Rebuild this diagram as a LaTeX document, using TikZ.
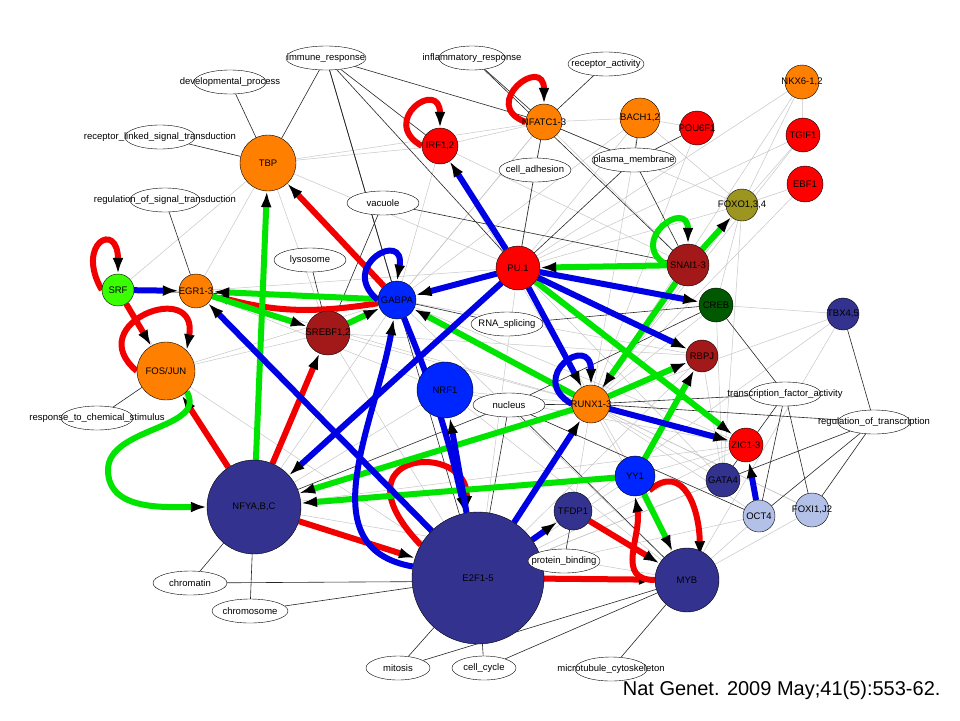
\documentclass[tikz,border=0pt]{standalone}
\usepackage{fontspec}
\setmainfont{Liberation Sans}
\usetikzlibrary{shapes.geometric,arrows.meta}
\pgfdeclarelayer{bg}
\pgfdeclarelayer{paper}
\pgfsetlayers{paper,bg,main}

\tikzset{
  tf/.style={circle, draw=black, thin, minimum size=#1, inner sep=0pt, font=\fontsize{9.5}{10}\selectfont,
    execute at begin node={\setbox0\hbox\bgroup}, execute at end node={\egroup\makebox[0pt]{\box0}}},
  go/.style={ellipse, draw=black, thin, fill=white, minimum width=#1, minimum height=24, inner sep=0pt},
  gotext/.style={font=\fontsize{9.5}{10}\selectfont},
  gry/.style={draw=black!22, line width=0.5pt},
  gol/.style={draw=black!85, line width=0.6pt},
  reg/.style={line width=6pt, -{Latex[black, length=16pt, width=11pt]}},
  rd/.style={reg, draw=red!95!black},
  gn/.style={reg, draw=green!90!black},
  bl/.style={reg, draw=blue!90!black}
}

\newcommand{\goterm}[4]{\node[go=#2] (#1) at (#3) {}; \node[gotext] at (#1.center) {#4};}

\begin{document}
\begin{tikzpicture}[x=1pt, y=-1pt]
\useasboundingbox (0,0) rectangle (960,720);
\begin{pgfonlayer}{paper}
\fill[white] (0,0) rectangle (960,720);
\end{pgfonlayer}

% transcription factors
\node[tf=56, fill=orange] (TBP) at (268,163) {TBP};
\node[tf=32, fill=green!70!lime] (SRF) at (118,290) {SRF};
\node[tf=34, fill=orange] (EGR) at (196,291) {EGR1-3};
\node[tf=58, fill=orange] (FOS) at (166,371) {FOS/JUN};
\node[tf=38, fill=blue!85!cyan] (GABPA) at (397,300) {GABPA};
\node[tf=44, fill=red!60!black!90] (SREBF) at (328,333) {SREBF1,2};
\node[tf=56, fill=blue!85!cyan] (NRF) at (445,390) {NRF1};
\node[tf=94, fill=blue!45!black!80] (NFY) at (254,507) {NFYA,B,C};
\node[tf=132, fill=blue!45!black!80] (E2F) at (478,578) {E2F1-5};
\node[tf=44, fill=red] (PU) at (518,268) {PU.1};
\node[tf=36, fill=red] (IRF) at (440,146) {IRF1,2};
\node[tf=36, fill=orange] (NFAT) at (544,122) {NFATC1-3};
\node[tf=40, fill=orange] (BACH) at (640,118) {BACH1,2};
\node[tf=34, fill=red] (POU) at (697,128) {POU6F1};
\node[tf=34, fill=orange] (NKX) at (802,82) {NKX6-1,2};
\node[tf=34, fill=red] (TGIF) at (803,135) {TGIF1};
\node[tf=36, fill=red] (EBF) at (805,184) {EBF1};
\node[tf=32, fill=olive!60!yellow!80!black] (FOXO) at (742,205) {FOXO1,3,4};
\node[tf=42, fill=red!60!black!90] (SNAI) at (688,265) {SNAI1-3};
\node[tf=34, fill=green!35!black] (CREB) at (716,305) {CREB};
\node[tf=32, fill=blue!45!black!80] (TBX) at (843,314) {TBX4,5};
\node[tf=32, fill=red!60!black!90] (RBPJ) at (702,356) {RBPJ};
\node[tf=38, fill=orange] (RUNX) at (591,404) {RUNX1-3};
\node[tf=34, fill=red] (ZIC) at (746,445) {ZIC1-3};
\node[tf=40, fill=blue!85!cyan] (YY) at (635,476) {YY1};
\node[tf=34, fill=blue!45!black!80] (GATA) at (723,480) {GATA4};
\node[tf=38, fill=blue!45!black!80] (TFDP) at (573,511) {TFDP1};
\node[tf=32, fill=cyan!40!blue!30] (OCT) at (759,516) {OCT4};
\node[tf=34, fill=cyan!40!blue!30] (FOXI) at (812,510) {FOXI1,J2};
\node[tf=64, fill=blue!45!black!80] (MYB) at (687,580) {MYB};

% gene ontology terms
\goterm{immune}{80}{326,58}{immune\_response}
\goterm{devel}{72}{230,82}{developmental\_process}
\goterm{inflam}{66}{472,58}{inflammatory\_response}
\goterm{recact}{76}{606,64}{receptor\_activity}
\goterm{reclink}{70}{160,137}{receptor\_linked\_signal\_transduction}
\goterm{celladh}{72}{535,170}{cell\_adhesion}
\goterm{plasma}{84}{634,160}{plasma\_membrane}
\goterm{regsig}{70}{165,200}{regulation\_of\_signal\_transduction}
\goterm{vacuole}{72}{383,203}{vacuole}
\goterm{lysosome}{72}{310,260}{lysosome}
\goterm{rna}{72}{507,324}{RNA\_splicing}
\goterm{nucleus}{72}{509,405}{nucleus}
\goterm{tfact}{72}{785,394}{transcription\_factor\_activity}
\goterm{regtr}{72}{874,422}{regulation\_of\_transcription}
\goterm{chem}{72}{97,418}{response\_to\_chemical\_stimulus}
\goterm{protein}{72}{564,561}{protein\_binding}
\goterm{chromatin}{74}{190,583}{chromatin}
\goterm{chromosome}{76}{250,611}{chromosome}
\goterm{mitosis}{64}{398,668}{mitosis}
\goterm{cellcyc}{64}{484,668}{cell\_cycle}
\goterm{micro}{72}{611,669}{microtubule\_cytoskeleton}

\node[anchor=east, font=\fontsize{20}{22}\selectfont] (cite) at (944,690) {Nat Genet. 2009 May;41(5):553-62.};

\begin{pgfonlayer}{bg}
% weak interactions
\foreach \a/\b in {TBP/GABPA, TBP/PU, TBP/SREBF, TBP/IRF, SRF/GABPA, SRF/NFY, EGR/NRF, EGR/PU, FOS/E2F, FOS/GABPA,
    GABPA/NFAT, GABPA/BACH, GABPA/RBPJ, GABPA/MYB, SREBF/E2F, SREBF/RUNX, NRF/RUNX, NRF/MYB, NFY/RUNX, NFY/MYB,
    PU/NFAT, PU/BACH, PU/FOXO, PU/NKX, PU/TGIF, PU/YY, PU/ZIC, PU/GATA, IRF/NFAT, IRF/SNAI, NFAT/BACH, NFAT/SNAI,
    BACH/POU, BACH/FOXO, NKX/FOXO, NKX/RUNX, TGIF/RUNX, EBF/RUNX, FOXO/RUNX, FOXO/CREB, SNAI/RUNX, CREB/RUNX, CREB/TBX,
    TBX/RUNX, TBX/MYB, RBPJ/E2F, RUNX/OCT, RUNX/FOXI, RUNX/GATA, RUNX/MYB, ZIC/E2F, YY/E2F, GATA/E2F, OCT/MYB, FOXI/MYB,
    TFDP/RUNX, E2F/PU, E2F/OCT, NFY/ZIC, SREBF/RBPJ, EGR/RUNX, GABPA/ZIC, NRF/ZIC, NFAT/FOXO, IRF/RUNX, TBP/NFAT,
    EGR/TBP, SRF/TBP, FOS/SREBF, NFY/NRF, NFY/GABPA, PU/RUNX, BACH/RUNX, POU/RUNX, NKX/TGIF, TGIF/FOXO, EBF/FOXO,
    IRF/GABPA, NFAT/GABPA, CREB/GATA, RBPJ/GATA, YY/ZIC, TFDP/E2F, E2F/GATA, FOXI/RUNX, FOXO/GATA, TBX/E2F}
  \draw[gry] (\a) -- (\b);
% ontology links
\foreach \a/\b in {TBP/devel, TBP/immune, TBP/reclink, EGR/regsig, SRF/GABPA, immune/IRF, immune/NFAT, immune/PU, immune/E2F,
    inflam/NFAT, inflam/SNAI, recact/NFAT, NFAT/celladh, NFAT/plasma, BACH/plasma, POU/plasma, celladh/PU, plasma/PU,
    plasma/SNAI, vacuole/SREBF, vacuole/SNAI, lysosome/SREBF, rna/GABPA, rna/CREB, nucleus/E2F, nucleus/RUNX, nucleus/NFY,
    nucleus/CREB, nucleus/OCT, nucleus/MYB, tfact/CREB, tfact/RUNX, tfact/OCT, tfact/FOXI, tfact/GATA, regtr/TBX, regtr/GATA,
    regtr/OCT, regtr/FOXI, regtr/RUNX, FOS/chem, TFDP/protein, E2F/protein, chromatin/NFY, chromosome/NFY, chromosome/E2F,
    mitosis/E2F, mitosis/MYB, cellcyc/E2F, cellcyc/MYB, micro/MYB, chromatin/MYB, immune/GABPA}
  \draw[gol] (\a) -- (\b);

% red interactions
\draw[rd] (SRF.west) to[out=120, in=90, looseness=6] (SRF.north);
\draw[rd] (SRF) -- (FOS);
\draw[rd] (FOS.west) to[out=140, in=80, looseness=3.5] (FOS.north east);
\draw[rd] (GABPA) -- (TBP);
\draw[rd] (GABPA) to[bend left=12] (EGR);
\draw[rd] (NFY) -- (FOS);
\draw[rd] (NFY) -- (SREBF);
\draw[rd] (NFY) -- (E2F);
\draw[rd] (E2F.150) .. controls (330,450) and (470,440) .. ([xshift=-12pt]E2F.north);
\draw[rd] (E2F) -- (MYB);
\draw[rd] (TFDP) -- (MYB);
\draw[rd] (YY.south east) to[out=40, in=90, looseness=1.4] ([xshift=-10pt]MYB.north east);
\draw[rd] (MYB.west) to[out=180, in=-80, looseness=1.2] (YY.south);
\draw[rd] (IRF.west) to[out=150, in=90, looseness=5] (IRF.north);
\draw[rd] (NFAT.west) to[out=160, in=90, looseness=5] (NFAT.north);

% green interactions
\draw[gn] (NFY) -- (TBP);
\draw[gn] (FOS.south east) to[out=-60, in=90, looseness=1] (108,470) to[out=-90, in=180] (NFY.west);
\draw[gn] (GABPA) -- (EGR);
\draw[gn] (EGR) -- (SREBF);
\draw[gn] (SREBF) -- (GABPA);
\draw[gn] (SNAI) -- (PU);
\draw[gn] (SNAI.west) to[out=150, in=90, looseness=4] (SNAI.north);
\draw[gn] (SNAI) -- (FOXO);
\draw[gn] (PU) -- (ZIC);
\draw[gn] (SNAI) -- (RUNX);
\draw[gn] (RUNX) -- (GABPA);
\draw[gn] (YY) -- (NFY);
\draw[gn] (RUNX) -- (NFY);
\draw[gn] (YY) -- (RBPJ);
\draw[gn] (YY) -- (MYB);
\draw[gn] (RUNX) -- (RBPJ);

% blue interactions
\draw[bl] (SRF) -- (EGR);
\draw[bl] (GABPA.west) to[out=140, in=80, looseness=5] (GABPA.north);
\draw[bl] (GABPA) to[bend left=5] (E2F);
\draw[bl] (E2F) to[out=170, in=-100, looseness=1.1] (GABPA);
\draw[bl] (E2F) -- (EGR);
\draw[bl] (PU) -- (GABPA);
\draw[bl] (PU) -- (IRF);
\draw[bl] (PU) -- (CREB);
\draw[bl] (PU) -- (RBPJ);
\draw[bl] (PU) -- (RUNX);
\draw[bl] (RUNX.west) to[out=150, in=90, looseness=5] (RUNX.north);
\draw[bl] (RUNX) -- (ZIC);
\draw[bl] (E2F) -- (NRF);
\draw[bl] (E2F) -- (RUNX);
\draw[bl] (E2F) -- (TFDP);
\draw[bl] (PU) -- (NFY);
\draw[bl] (OCT) -- (ZIC);
\end{pgfonlayer}
\end{tikzpicture}
\end{document}
